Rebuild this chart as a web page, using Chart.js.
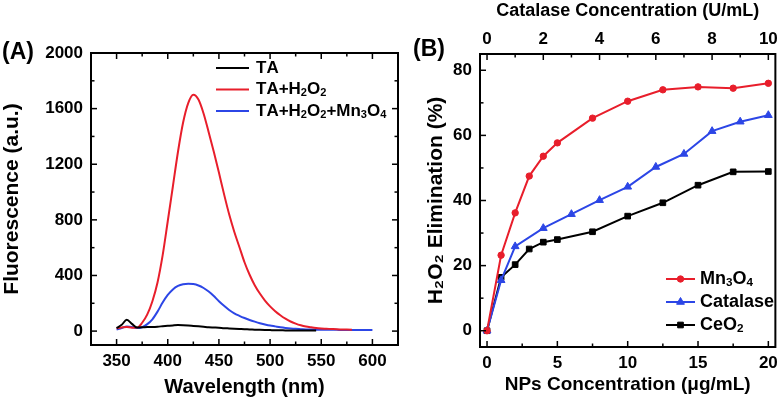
<!DOCTYPE html>
<html>
<head>
<meta charset="utf-8">
<script src="https://cdn.jsdelivr.net/npm/chart.js@4/dist/chart.umd.min.js"></script>
<style>
  html, body { margin: 0; padding: 0; background: #fff; }
  #wrap { position: relative; width: 784px; height: 400px; }
  canvas { position: absolute; top: 0; }
  #chart-a { left: 0; }
  #chart-b { left: 400px; }
</style>
</head>
<body>
<div id="wrap">
  <canvas id="chart-a" width="400" height="400"></canvas>
  <canvas id="chart-b" width="384" height="400"></canvas>
</div>
<script>
// ---- (A) spettri di fluorescenza ----
const wavelengths = [350, 355, 360, 365, 370, 375, 380, 385, 390, 395,
  400, 405, 410, 415, 420, 425, 430, 435, 440, 445,
  450, 455, 460, 465, 470, 475, 480, 485, 490, 495,
  500, 505, 510, 515, 520, 525, 530, 535, 540, 545,
  550, 555, 560, 565, 570, 575, 580, 585, 590, 595, 600];

const taValues = [22, 45, 82, 52, 26, 27, 29, 30, 32, 35,
  38, 41, 43, 42, 40, 37, 34, 31, 28, 26,
  24, 21, 19, 17, 15, 13, 12, 10, 9, 8,
  7, 6, 6, 5, 5, 5, 5, 5, 5, 5];

const taH2o2Values = [20, 26, 30, 24, 25, 60, 120, 215, 350, 545,
  790, 1040, 1290, 1500, 1640, 1700, 1665, 1565, 1430, 1290,
  1140, 985, 840, 715, 605, 495, 405, 330, 270, 220,
  178, 143, 114, 89, 69, 54, 42, 33, 27, 22,
  19, 17, 15, 13, 12, 11, 10];

const taMnValues = [12, 22, 33, 30, 22, 28, 50, 85, 140, 205,
  260, 300, 325, 337, 340, 338, 328, 310, 285, 252,
  215, 182, 152, 128, 110, 94, 80, 68, 57, 48,
  40, 34, 28, 23, 19, 16, 14, 12, 11, 10,
  10, 9, 9, 9, 8, 8, 8, 8, 8, 8, 8];

const wavelengthTicks = [350, 400, 450, 500, 550, 600];
const fluoTicks = [0, 400, 800, 1200, 1600, 2000];

// ---- (B) eliminazione H2O2 ----
const npsConc = [0, 1, 2, 3, 4, 5, 7.5, 10, 12.5, 15, 17.5, 20];
const mn3o4Removal = [0, 23.2, 36.2, 47.5, 53.6, 57.7, 65.3, 70.5, 74.0, 74.9, 74.5, 76.0];
const ceo2Removal = [0, 16.4, 20.3, 25.1, 27.2, 28.0, 30.4, 35.2, 39.3, 44.7, 48.8, 48.9];
const catalaseConc = [0, 0.5, 1, 2, 3, 4, 5, 6, 7, 8, 9, 10];
const catalaseRemoval = [0, 15.5, 25.9, 31.5, 35.8, 40.1, 44.2, 50.3, 54.3, 61.3, 64.2, 66.2];

const npsTicks = [0, 5, 10, 15, 20];
const catalaseTicks = [0, 2, 4, 6, 8, 10];
const removalTicks = [0, 20, 40, 60, 80];

const RED = '#e81e2b';
const BLUE = '#2c46e6';
const BLACK = '#000000';
const FONT = "'Liberation Sans', Arial, sans-serif";
const SUBS = { '₂': '2', '₃': '3', '₄': '4' };

const toPoints = (xs, ys) => ys.map((y, i) => ({ x: xs[i], y: y }));

// etichetta solo i valori della lista
const labelIf = list => v => {
  const m = list.find(t => Math.abs(t - v) < 1e-6);
  return m === undefined ? '' : m;
};

// tacche principali + tacche secondarie a metà
const withMinor = list => {
  const out = [];
  list.forEach((v, i) => {
    out.push({ value: v });
    if (i < list.length - 1) out.push({ value: (v + list[i + 1]) / 2 });
  });
  return out;
};
const fixedTicks = list => axis => { axis.ticks = withMinor(list); };

// Testo con pedici piccoli e abbassati
function drawRich(ctx, text, x, y, size) {
  for (const ch of text) {
    const sub = SUBS[ch];
    ctx.font = 'bold ' + (sub ? size * 0.65 : size) + 'px ' + FONT;
    const c = sub || ch;
    ctx.fillText(c, x, sub ? y + size * 0.22 : y);
    x += ctx.measureText(c).width;
  }
}

// Tacche interne, cornice, legenda ed etichetta del pannello
const decor = {
  id: 'decor',
  afterDraw(chart, args, o) {
    const ctx = chart.ctx;
    const a = chart.chartArea;
    ctx.save();
    ctx.strokeStyle = '#000';
    ctx.lineWidth = 1.5;

    Object.values(chart.scales).forEach(s => {
      const sides = [s.position];
      if (o.mirror && o.mirror[s.id]) sides.push(o.mirror[s.id]);
      s.ticks.forEach(t => {
        const len = t.label === '' ? 3.5 : 6;
        const p = s.getPixelForValue(t.value);
        sides.forEach(side => {
          ctx.beginPath();
          if (side === 'left') { ctx.moveTo(a.left, p); ctx.lineTo(a.left + len, p); }
          if (side === 'right') { ctx.moveTo(a.right, p); ctx.lineTo(a.right - len, p); }
          if (side === 'bottom') { ctx.moveTo(p, a.bottom); ctx.lineTo(p, a.bottom - len); }
          if (side === 'top') { ctx.moveTo(p, a.top); ctx.lineTo(p, a.top + len); }
          ctx.stroke();
        });
      });
    });

    ctx.lineWidth = 2;
    ctx.strokeRect(a.left, a.top, a.right - a.left, a.bottom - a.top);

    const lg = o.legend;
    ctx.textBaseline = 'middle';
    ctx.textAlign = 'left';
    chart.data.datasets.forEach((ds, i) => {
      const y = lg.y + i * lg.dy;
      ctx.strokeStyle = ds.borderColor;
      ctx.lineWidth = ds.borderWidth;
      ctx.beginPath();
      ctx.moveTo(lg.x, y);
      ctx.lineTo(lg.x + lg.len, y);
      ctx.stroke();
      if (ds.pointRadius > 0 && Chart.helpers && Chart.helpers.drawPoint) {
        ctx.fillStyle = ds.borderColor;
        ctx.lineWidth = 1;
        Chart.helpers.drawPoint(ctx, {
          pointStyle: ds.pointStyle, radius: ds.pointRadius, rotation: 0, borderWidth: 1
        }, lg.x + lg.len / 2, y);
      }
      ctx.fillStyle = '#000';
      drawRich(ctx, ds.label, lg.x + lg.len + lg.gap, y, lg.size);
    });

    ctx.font = 'bold 23px ' + FONT;
    ctx.fillStyle = '#000';
    ctx.fillText(o.panel.text, o.panel.x, o.panel.y);
    ctx.restore();
  }
};

const tickFont = { family: FONT, size: 17, weight: 'bold' };
const noGrid = { display: false, drawTicks: false };

// Grafico (A)
new Chart(document.getElementById('chart-a'), {
  type: 'line',
  data: {
    datasets: [
      { label: 'TA', data: toPoints(wavelengths, taValues), borderColor: BLACK },
      { label: 'TA+H₂O₂', data: toPoints(wavelengths, taH2o2Values), borderColor: RED },
      { label: 'TA+H₂O₂+Mn₃O₄', data: toPoints(wavelengths, taMnValues), borderColor: BLUE }
    ].map(d => Object.assign(d, {
      borderWidth: 2, pointRadius: 0, fill: false, cubicInterpolationMode: 'monotone'
    }))
  },
  options: {
    responsive: false,
    animation: false,
    devicePixelRatio: 1,
    layout: { padding: { top: 53, right: 2, left: 0, bottom: 0 } },
    plugins: {
      legend: { display: false },
      tooltip: { enabled: false },
      decor: {
        mirror: { x: 'top', y: 'right' },
        legend: { x: 216, y: 68, dy: 21.5, len: 33, gap: 7, size: 17 },
        panel: { text: '(A)', x: 2, y: 53 }
      }
    },
    scales: {
      x: {
        type: 'linear', position: 'bottom', min: 325, max: 625,
        afterBuildTicks: fixedTicks(wavelengthTicks),
        afterFit: s => { s.height = 55; },
        grid: noGrid,
        border: { display: false },
        ticks: { autoSkip: false, maxRotation: 0, padding: 6, color: '#000',
          font: tickFont, callback: labelIf(wavelengthTicks) },
        title: { display: true, text: 'Wavelength (nm)', color: '#000',
          font: { family: FONT, size: 20, weight: 'bold' }, padding: { top: 0, bottom: 1 } }
      },
      y: {
        type: 'linear', position: 'left', min: -100, max: 2000,
        afterBuildTicks: fixedTicks(fluoTicks),
        afterFit: s => { s.width = 91; },
        grid: noGrid,
        border: { display: false },
        ticks: { autoSkip: false, padding: 8, color: '#000',
          font: tickFont, callback: labelIf(fluoTicks) },
        title: { display: true, text: 'Fluorescence (a.u.)', color: '#000',
          font: { family: FONT, size: 21, weight: 'bold' }, padding: { top: 0, bottom: 0 } }
      }
    }
  },
  plugins: [decor]
});

// Grafico (B)
new Chart(document.getElementById('chart-b'), {
  type: 'line',
  data: {
    datasets: [
      { label: 'Mn₃O₄', data: toPoints(npsConc, mn3o4Removal), borderColor: RED,
        backgroundColor: RED, pointStyle: 'circle', pointRadius: 3.2, xAxisID: 'x', order: 0 },
      { label: 'Catalase', data: toPoints(catalaseConc, catalaseRemoval), borderColor: BLUE,
        backgroundColor: BLUE, pointStyle: 'triangle', pointRadius: 4.5, xAxisID: 'x2', order: 1 },
      { label: 'CeO₂', data: toPoints(npsConc, ceo2Removal), borderColor: BLACK,
        backgroundColor: BLACK, pointStyle: 'rect', pointRadius: 4, xAxisID: 'x', order: 2 }
    ].map(d => Object.assign(d, {
      borderWidth: 2, pointBorderWidth: 1, fill: false, tension: 0
    }))
  },
  options: {
    responsive: false,
    animation: false,
    devicePixelRatio: 1,
    layout: { padding: { top: 0, right: 4, left: 0, bottom: 0 } },
    plugins: {
      legend: { display: false },
      tooltip: { enabled: false },
      decor: {
        legend: { x: 266, y: 279, dy: 23, len: 29, gap: 5, size: 18 },
        panel: { text: '(B)', x: 13, y: 50 }
      }
    },
    scales: {
      x: {
        type: 'linear', position: 'bottom', min: -0.5, max: 20.5,
        afterBuildTicks: fixedTicks(npsTicks),
        afterFit: s => { s.height = 53; },
        grid: noGrid,
        border: { display: false },
        ticks: { autoSkip: false, maxRotation: 0, padding: 6, color: '#000',
          font: tickFont, callback: labelIf(npsTicks) },
        title: { display: true, text: 'NPs Concentration (μg/mL)', color: '#000',
          font: { family: FONT, size: 19, weight: 'bold' }, padding: { top: 0, bottom: 4 } }
      },
      x2: {
        type: 'linear', position: 'top', min: -0.25, max: 10.25,
        afterBuildTicks: fixedTicks(catalaseTicks),
        afterFit: s => { s.height = 54; },
        grid: noGrid,
        border: { display: false },
        ticks: { autoSkip: false, maxRotation: 0, padding: 4, color: '#000',
          font: tickFont, callback: labelIf(catalaseTicks) },
        title: { display: true, text: 'Catalase Concentration (U/mL)', color: '#000',
          font: { family: FONT, size: 18, weight: 'bold' }, padding: { top: 0, bottom: 0 } }
      },
      y: {
        type: 'linear', position: 'left', min: -5, max: 85,
        afterBuildTicks: fixedTicks(removalTicks),
        afterFit: s => { s.width = 80; },
        grid: noGrid,
        border: { display: false },
        ticks: { autoSkip: false, padding: 8, color: '#000',
          font: tickFont, callback: labelIf(removalTicks) },
        title: { display: true, text: 'H₂O₂ Elimination (%)', color: '#000',
          font: { family: FONT, size: 21, weight: 'bold' }, padding: { top: 24, bottom: 0 } }
      }
    }
  },
  plugins: [decor]
});
</script>
</body>
</html>
